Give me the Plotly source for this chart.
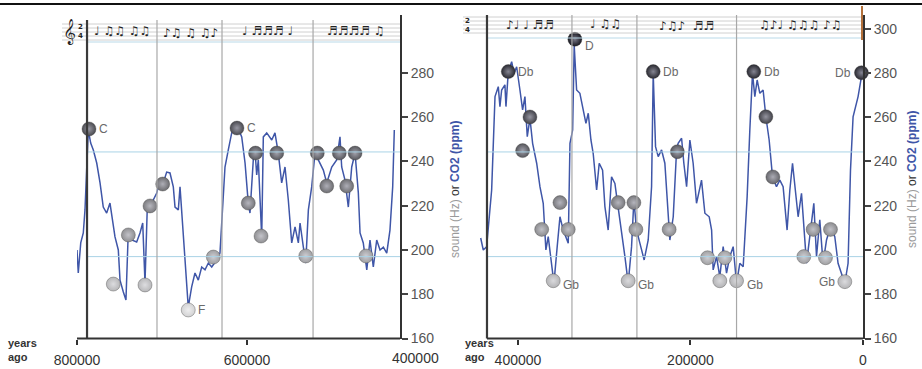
import plotly.graph_objects as go

# ---------------- DATA ----------------
# Left panel: CO2 record 800k - 420k years ago (thousand years, ppm)
left_kyr = [800.0, 798.5, 795.6, 792.6, 790.6, 788.6, 786.7, 783.9, 780.8, 776.8, 772.9, 769.1, 765.1,
            761.2, 758.0, 755.3, 751.4, 749.4, 745.5, 742.4, 739.6, 735.6, 729.8, 725.9, 722.7, 720.0,
            717.3, 712.1, 706.2, 702.4, 698.5, 694.5, 690.6, 686.7, 684.7, 680.8, 678.8, 676.8, 672.9,
            669.1, 665.1, 661.2, 657.3, 653.3, 649.4, 645.5, 641.5, 635.6, 631.8, 628.6, 625.9, 622.0,
            618.0, 612.1, 606.2, 602.3, 598.5, 596.5, 592.6, 590.6, 588.6, 586.7, 584.7, 582.7, 580.8,
            576.8, 570.9, 567.1, 563.2, 559.2, 555.3, 551.4, 547.4, 543.5, 539.6, 537.6, 533.7, 530.9,
            527.8, 523.9, 520.0, 514.1, 510.2, 506.2, 500.3, 494.5, 490.6, 488.6, 484.7, 480.8, 476.8,
            472.9, 469.0, 467.0, 463.2, 459.1, 455.3, 451.4, 447.4, 443.5, 439.6, 435.6, 431.8, 428.6,
            426.7]
left_ppm = [200.0, 189.6, 203.2, 207.7, 218.1, 237.5, 254.2, 248.3, 245.2, 239.3, 230.3, 219.4, 216.7,
            221.2, 213.6, 205.9, 200.0, 186.4, 181.0, 177.4, 209.0, 204.5, 203.6, 207.7, 212.2, 185.1,
            219.4, 221.2, 225.7, 231.6, 230.3, 235.2, 234.8, 228.5, 219.4, 218.1, 228.5, 216.7, 192.3,
            174.2, 183.3, 189.6, 186.4, 192.3, 191.0, 194.1, 192.3, 195.5, 198.6, 218.1, 237.5, 245.2,
            252.9, 256.5, 251.1, 239.3, 221.2, 216.7, 240.7, 245.2, 233.9, 240.7, 222.6, 205.9, 251.1,
            252.9, 249.7, 252.9, 243.8, 230.3, 237.5, 222.6, 203.2, 210.4, 203.2, 212.2, 201.3, 194.1,
            218.1, 228.5, 243.8, 239.3, 236.1, 230.3, 237.5, 240.7, 251.1, 237.5, 231.6, 219.4, 237.5,
            243.8, 225.7, 207.7, 203.2, 191.0, 204.5, 192.3, 204.5, 200.0, 201.3, 198.6, 209.0, 228.5,
            254.2]

# Right panel: CO2 record 443k - 0 years ago
right_kyr = [443.2, 440.2, 436.3, 434.4, 430.5, 426.6, 422.8, 420.9, 418.9, 415.1, 413.9, 411.2, 407.3,
             404.6, 401.5, 397.7, 394.6, 391.9, 389.2, 386.1, 383.0, 378.3, 374.5, 370.7, 367.6, 364.9,
             361.0, 358.3, 354.5, 351.3, 347.5, 344.4, 341.7, 339.7, 336.6, 334.8, 332.0, 328.2, 324.3,
             321.2, 318.5, 315.4, 312.8, 308.8, 305.8, 301.9, 299.2, 295.4, 291.5, 287.6, 284.5, 279.8,
             276.0, 272.2, 268.3, 265.6, 262.5, 258.6, 253.7, 249.0, 245.1, 243.2, 240.5, 237.4, 233.5,
             229.7, 225.8, 223.9, 220.0, 216.1, 214.3, 210.3, 207.7, 204.5, 200.7, 196.9, 193.0, 187.2,
             183.3, 178.3, 175.5, 173.7, 169.8, 166.0, 162.1, 158.2, 154.4, 150.5, 146.6, 142.8, 138.9,
             134.3, 131.2, 128.1, 125.4, 122.7, 119.6, 115.8, 112.6, 108.8, 104.9, 100.3, 96.4, 92.6,
             88.0, 84.8, 81.7, 79.0, 75.2, 71.3, 68.6, 65.5, 61.7, 57.0, 53.9, 50.1, 46.3, 42.3, 37.7,
             32.7, 28.9, 25.0, 21.1, 17.3, 14.5, 11.5, 8.4, 5.7, 1.8, 0.8]
right_ppm = [205.4, 200.0, 201.5, 209.0, 227.1, 269.3, 273.8, 264.8, 272.3, 274.6, 264.8, 280.6, 285.1,
             279.8, 282.8, 272.3, 263.3, 269.3, 251.2, 259.5, 248.2, 239.2, 228.6, 221.1, 200.0, 206.0,
             194.0, 184.9, 201.5, 215.0, 209.0, 206.0, 203.0, 248.2, 254.2, 292.6, 272.3, 270.8, 263.3,
             257.2, 261.8, 249.7, 243.7, 227.1, 239.2, 236.1, 219.6, 209.0, 233.1, 230.1, 221.1, 209.0,
             197.0, 184.9, 201.5, 222.6, 209.0, 203.0, 195.5, 204.5, 228.6, 279.8, 246.7, 242.2, 245.2,
             239.2, 213.6, 204.5, 215.0, 245.2, 248.2, 250.5, 239.2, 228.6, 249.7, 239.2, 221.1, 231.6,
             216.6, 215.0, 209.0, 191.0, 197.0, 187.9, 201.5, 189.5, 197.0, 201.5, 184.9, 194.0, 192.4,
             224.1, 254.2, 279.8, 269.3, 276.8, 270.8, 272.3, 260.2, 249.7, 233.1, 228.6, 231.6, 228.6,
             209.0, 227.1, 239.2, 228.6, 215.0, 225.6, 212.1, 194.0, 206.0, 221.1, 197.0, 213.6, 194.0,
             204.5, 210.5, 206.0, 194.0, 189.5, 184.9, 194.0, 236.1, 260.2, 264.8, 269.3, 278.3, 280.4]

# Note markers (sound, Hz) and their note names
left_note_kyr = [785.9, 757.3, 720.0, 739.6, 714.1, 699.2, 669.1, 639.6, 611.8, 598.5, 590.0, 583.5,
                 565.0, 530.9, 517.3, 506.2, 491.4, 482.7, 472.9, 460.0]
left_note_hz = [254.7, 184.6, 184.2, 206.8, 219.9, 229.8, 172.9, 196.8, 255.1, 221.2, 243.8, 206.3,
                243.8, 197.3, 243.8, 228.9, 243.8, 228.9, 243.8, 197.3]
left_note_name = ["C", "", "", "", "", "", "F", "", "C", "", "", "", "", "", "", "", "", "", "", ""]

right_note_kyr = [411.2, 386.1, 394.6, 372.5, 359.1, 351.3, 341.7, 334.0, 283.8, 272.2, 265.6, 263.3,
                  243.2, 215.2, 224.7, 180.2, 160.2, 166.0, 146.6, 126.6, 112.6, 104.5, 68.6, 57.8,
                  37.7, 43.5, 21.1, 1.8]
right_note_hz = [280.6, 260.1, 244.9, 209.3, 186.1, 221.4, 209.3, 295.2, 221.4, 186.1, 221.4, 209.3,
                 280.6, 244.4, 209.3, 196.5, 196.5, 186.1, 186.1, 280.6, 260.2, 233.0, 197.0, 209.3,
                 209.3, 196.5, 185.7, 280.1]
right_note_name = ["Db", "", "", "", "Gb", "", "", "D", "", "Gb", "", "", "Db", "", "", "", "", "",
                   "Gb", "Db", "", "", "", "", "", "", "Gb", "Db"]

# Bar lines of the score (thousand years ago) and the staff reference pitches (Hz)
left_bars_kyr = [788.2, 705.9, 629.4, 522.3]
right_bars_kyr = [435.9, 337.4, 262.1, 146.6]
ref_pitch_hz = [244.3, 197.0]

left_ticks = [800000, 600000]
right_ticks = [400000, 200000, 0]
left_yticks = [160, 180, 200, 220, 240, 260, 280]
right_yticks = [160, 180, 200, 220, 240, 260, 280, 300]

# ---------------- STYLE / HELPERS ----------------
W, H = 922, 369
FONT = "Liberation Sans, Arial, Helvetica, sans-serif"
BLUE = "#3f56a8"


def px(x):
    return x / W


def py(y):
    return 1 - y / H


def shade(v):
    t = (v - 170) / (296 - 170)
    t = max(0.0, min(1.0, t)) ** 0.75
    lo = (222, 222, 222)
    hi = (22, 22, 30)
    c = [int(round(lo[i] + (hi[i] - lo[i]) * t)) for i in range(3)]
    return "rgb(%d,%d,%d)" % tuple(c)


def highlight(v):
    t = (v - 170) / (296 - 170)
    t = max(0.0, min(1.0, t)) ** 0.75
    lo = (245, 245, 245)
    hi = (120, 120, 135)
    c = [int(round(lo[i] + (hi[i] - lo[i]) * t)) for i in range(3)]
    return "rgb(%d,%d,%d)" % tuple(c)


fig = go.Figure()

fig.add_trace(go.Scatter(x=[k * 1000 for k in left_kyr], y=left_ppm, mode="lines",
                         line=dict(color=BLUE, width=1.5), xaxis="x", yaxis="y",
                         hoverinfo="skip", showlegend=False))
fig.add_trace(go.Scatter(x=[k * 1000 for k in right_kyr], y=right_ppm, mode="lines",
                         line=dict(color=BLUE, width=1.5), xaxis="x2", yaxis="y2",
                         hoverinfo="skip", showlegend=False))

for kyr, hz, xa, ya in [(left_note_kyr, left_note_hz, "x", "y"), (right_note_kyr, right_note_hz, "x2", "y2")]:
    fig.add_trace(go.Scatter(
        x=[k * 1000 for k in kyr], y=hz, mode="markers", xaxis=xa, yaxis=ya,
        marker=dict(size=14, color=[shade(v) for v in hz],
                    gradient=dict(type="radial", color=[highlight(v) for v in hz]),
                    line=dict(width=0.6, color="rgba(60,60,60,0.6)")),
        cliponaxis=False, hoverinfo="skip", showlegend=False))

shapes = []
annotations = []

# top black rule
shapes.append(dict(type="line", xref="paper", yref="paper", x0=0, x1=1, y0=py(4), y1=py(4),
                   line=dict(color="#111", width=2)))

# staffs
for (x0, x1, ys) in [(62, 400, [24, 28, 32, 36, 40]), (463, 862, [17, 21, 25, 29, 33])]:
    for yy in ys:
        shapes.append(dict(type="line", xref="paper", yref="paper", x0=px(x0), x1=px(x1),
                           y0=py(yy), y1=py(yy), line=dict(color="#c4c4c4", width=0.8)))
shapes.append(dict(type="line", xref="paper", yref="paper", x0=px(87), x1=px(400),
                   y0=py(42), y1=py(42), line=dict(color="#b9d9e8", width=1)))
shapes.append(dict(type="line", xref="paper", yref="paper", x0=px(487), x1=px(862),
                   y0=py(38), y1=py(38), line=dict(color="#b9d9e8", width=1)))

# reference pitch lines
for hz in ref_pitch_hz:
    shapes.append(dict(type="line", xref="x", yref="y", x0=left_bars_kyr[0] * 1000, x1=420000,
                       y0=hz, y1=hz, line=dict(color="#a9d3e6", width=1)))
    shapes.append(dict(type="line", xref="x2", yref="y2", x0=right_bars_kyr[0] * 1000, x1=0,
                       y0=hz, y1=hz, line=dict(color="#a9d3e6", width=1)))

# bar lines
for xa, bars, top in [("x", left_bars_kyr, 20), ("x2", right_bars_kyr, 15)]:
    for i, b in enumerate(bars):
        shapes.append(dict(type="line", xref=xa, yref="paper", x0=b * 1000, x1=b * 1000,
                           y0=py(338.5), y1=py(top),
                           line=dict(color="#3a3a3a" if i == 0 else "#a8a8a8", width=2.2 if i == 0 else 1.2)))

# x baselines
shapes.append(dict(type="line", xref="paper", yref="paper", x0=px(77), x1=px(400),
                   y0=py(338.5), y1=py(338.5), line=dict(color="#333", width=2)))
shapes.append(dict(type="line", xref="paper", yref="paper", x0=px(487), x1=px(863),
                   y0=py(338.5), y1=py(338.5), line=dict(color="#333", width=2)))
# playhead
shapes.append(dict(type="line", xref="paper", yref="paper", x0=px(862), x1=px(862),
                   y0=py(6), y1=py(40), line=dict(color="#b3703a", width=2)))

# note labels
for kyr, hz, names, xa, ya in [(left_note_kyr, left_note_hz, left_note_name, "x", "y"),
                               (right_note_kyr, right_note_hz, right_note_name, "x2", "y2")]:
    for k, h, n in zip(kyr, hz, names):
        if not n:
            continue
        left_side = (xa == "x2" and k < 30)
        ys = -4 if n in ("Gb", "D") and not left_side else 0
        if n == "D":
            ys = -7
        annotations.append(dict(x=k * 1000, y=h, xref=xa, yref=ya, text=n, showarrow=False,
                                xanchor="right" if left_side else "left",
                                xshift=-8 if left_side else 8, yshift=ys,
                                font=dict(family=FONT, size=12, color="#6a6a6a")))

# axis titles
title_html = ('<span style="color:#9a9a9a">sound (Hz)</span> <span style="color:#333">or</span> '
              '<span style="color:%s"><b>CO2 (ppm)</b></span>' % BLUE)
for xx, yy in [(455, 190), (912, 180)]:
    annotations.append(dict(x=px(xx), y=py(yy), xref="paper", yref="paper", text=title_html,
                            textangle=-90, showarrow=False, xanchor="center", yanchor="middle",
                            font=dict(family=FONT, size=12)))

# years ago
for xx in [22, 479]:
    annotations.append(dict(x=px(xx), y=py(350), xref="paper", yref="paper",
                            text="<b>years<br>ago</b>", showarrow=False, xanchor="center",
                            yanchor="middle", align="left",
                            font=dict(family=FONT, size=11, color="#333")))

# extra 400000 label at end of left axis
annotations.append(dict(x=px(415), y=py(358), xref="paper", yref="paper", text="400000",
                        showarrow=False, xanchor="center", yanchor="middle",
                        font=dict(family=FONT, size=14, color="#333")))

# score decoration
NOTE_FONT = "DejaVu Sans, sans-serif"
score = [(69, 32, "𝄞", 22), (80, 31, "<b>2<br>4</b>", 7),
         (122, 31, "♩ ♫♫ ♫♫", 12), (190, 33, "♪♫ ♫ ♫♪", 12), (267, 31, "♩ ♬♬♬ ♩", 12),
         (356, 31, "♬♬♬♬ ♫", 12),
         (467, 25, "<b>2<br>4</b>", 7), (530, 25, "♪♩ ♩ ♬♬", 12), (605, 24, "♩ ♫♫", 12),
         (686, 26, "♪♫♪  ♬♬", 12), (800, 25, "♫♪♩ ♫♫♫ ♪♫", 12)]
for xx, yy, txt, fs in score:
    annotations.append(dict(x=px(xx), y=py(yy), xref="paper", yref="paper", text=txt,
                            showarrow=False, xanchor="center", yanchor="middle",
                            font=dict(family=NOTE_FONT, size=fs, color="#222")))

ydom = [py(338.5), py(15)]
yrange = [160, 160 + (338.5 - 15) / 2.213]

common_x = dict(showgrid=False, zeroline=False, showline=False, ticks="outside", ticklen=5,
                tickwidth=1.5, tickcolor="#333", tickfont=dict(family=FONT, size=14, color="#333"),
                automargin=False, ticklabelstandoff=4)
common_y = dict(showgrid=False, zeroline=False, showline=True, linecolor="#333", linewidth=2,
                side="right", ticks="outside", ticklen=6, tickwidth=1.5, tickcolor="#444",
                tickfont=dict(family=FONT, size=14, color="#555"), automargin=False,
                range=yrange, domain=ydom)

fig.update_layout(
    width=W, height=H, template="none",
    margin=dict(l=0, r=0, t=0, b=0),
    paper_bgcolor="white", plot_bgcolor="white",
    showlegend=False,
    xaxis=dict(domain=[px(77), px(400)], range=[800000, 420000], anchor="y",
               tickvals=left_ticks, ticktext=[str(v) for v in left_ticks], **common_x),
    yaxis=dict(anchor="x", tickvals=left_yticks, **common_y),
    xaxis2=dict(domain=[px(480), px(863)], range=[444000, 0], anchor="y2",
                tickvals=right_ticks, ticktext=[str(v) for v in right_ticks], **common_x),
    yaxis2=dict(anchor="x2", tickvals=right_yticks, **common_y),
    shapes=shapes,
    annotations=annotations,
)

fig.write_html("out.html", config={"displayModeBar": False},
               post_script="document.body.style.margin='0';document.body.style.overflow='hidden';")
